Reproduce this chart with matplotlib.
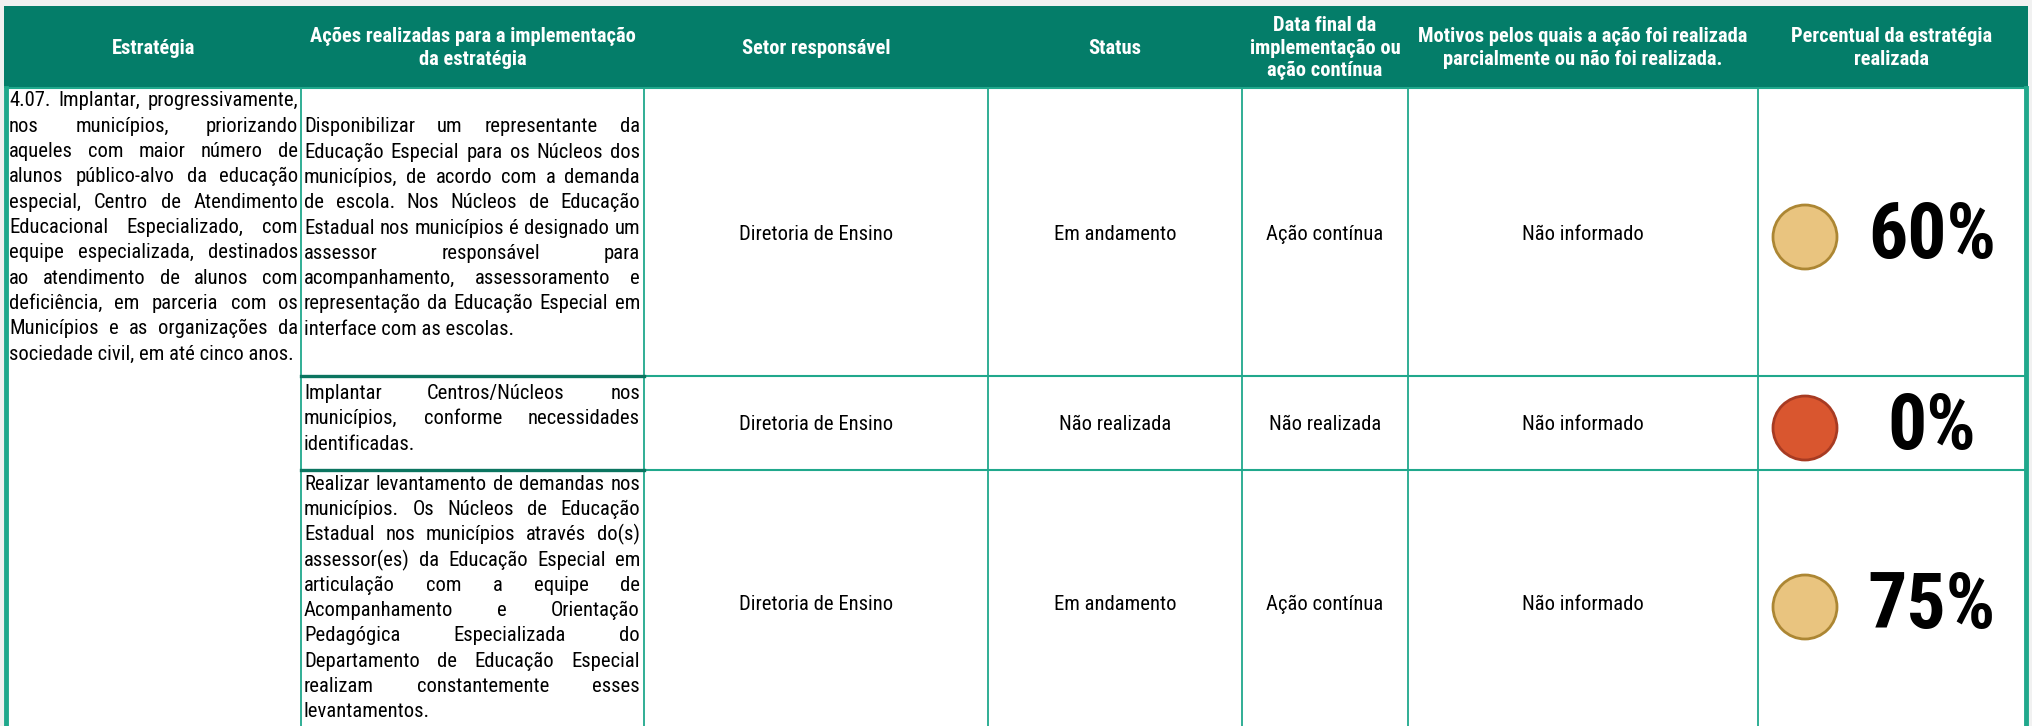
"""Quadro de monitoramento da estratégia 4.07 -> out.png."""

import matplotlib
matplotlib.use("Agg")
import matplotlib.pyplot as plt
from matplotlib import font_manager
from matplotlib.patches import Circle, Rectangle

W, H = 2033, 726

# ---- dados -------------------------------------------------------------
headers = [
    "Estratégia",
    "Ações realizadas para a implementação\nda estratégia",
    "Setor responsável",
    "Status",
    "Data final da\nimplementação ou\nação contínua",
    "Motivos pelos quais a ação foi realizada\nparcialmente ou não foi realizada.",
    "Percentual da estratégia\nrealizada",
]

estrategia = [
    "4.07. Implantar, progressivamente,",
    "nos municípios, priorizando",
    "aqueles com maior número de",
    "alunos público-alvo da educação",
    "especial, Centro de Atendimento",
    "Educacional Especializado, com",
    "equipe especializada, destinados",
    "ao atendimento de alunos com",
    "deficiência, em parceria com os",
    "Municípios e as organizações da",
    "sociedade civil, em até cinco anos.",
]

acoes = [
    ["Disponibilizar um representante da",
     "Educação Especial para os Núcleos dos",
     "municípios, de acordo com a demanda",
     "de escola. Nos Núcleos de Educação",
     "Estadual nos municípios é designado um",
     "assessor responsável para",
     "acompanhamento, assessoramento e",
     "representação da Educação Especial em",
     "interface com as escolas."],
    ["Implantar Centros/Núcleos nos",
     "municípios, conforme necessidades",
     "identificadas."],
    ["Realizar levantamento de demandas nos",
     "municípios. Os Núcleos de Educação",
     "Estadual nos municípios através do(s)",
     "assessor(es) da Educação Especial em",
     "articulação com a equipe de",
     "Acompanhamento e Orientação",
     "Pedagógica Especializada do",
     "Departamento de Educação Especial",
     "realizam constantemente esses",
     "levantamentos."],
]

setor = ["Diretoria de Ensino", "Diretoria de Ensino", "Diretoria de Ensino"]
status = ["Em andamento", "Não realizada", "Em andamento"]
data_final = ["Ação contínua", "Não realizada", "Ação contínua"]
motivos = ["Não informado", "Não informado", "Não informado"]
percentual = [60, 0, 75]

# ---- layout ------------------------------------------------------------
col_x = [6, 301, 644, 988, 1242, 1408, 1758, 2026]
head_top, head_bot = 6, 88
row_y = [88, 376, 470, 740]
LINE = 25.3
BODY = 14.9

GREEN = "#047d69"
TEAL = "#20a88c"
DARK = "#0b7560"

names = {f.name for f in font_manager.fontManager.ttflist}
FONT = "Roboto Condensed" if "Roboto Condensed" in names else "Roboto"
plt.rcParams["font.family"] = [FONT, "DejaVu Sans"]


def text_width(ax, r, s, **kw):
    t = ax.text(0, 0, s, **kw)
    w = t.get_window_extent(r).width
    t.remove()
    return w


def justified(ax, r, lines, x0, x1, y_first, size):
    kw = dict(fontsize=size, color="black", va="center")
    # shrink the font if the face is wider than the reference's condensed one
    widest = max(text_width(ax, r, ln, **kw) for ln in lines[:-1])
    if widest > (x1 - x0):
        kw["fontsize"] = size * (x1 - x0) / widest * 0.98
    for i, ln in enumerate(lines):
        y = y_first + i * LINE
        words = ln.split()
        if i == len(lines) - 1 or len(words) == 1:
            ax.text(x0, y, ln, ha="left", **kw)
            continue
        ws = [text_width(ax, r, w, **kw) for w in words]
        gap = (x1 - x0 - sum(ws)) / (len(words) - 1)
        x = x0
        for w, wd in zip(words, ws):
            ax.text(x, y, w, ha="left", **kw)
            x += wd + gap


def main():
    fig = plt.figure(figsize=(W / 100, H / 100), dpi=100)
    fig.patch.set_facecolor("#f1f1f1")
    ax = fig.add_axes([0, 0, 1, 1])
    ax.set_xlim(0, W)
    ax.set_ylim(H, 0)
    ax.axis("off")
    r = fig.canvas.get_renderer()

    # header band
    ax.add_patch(Rectangle((col_x[0] - 2, head_top), col_x[-1] - col_x[0] + 4,
                           head_bot - head_top, fc=GREEN, ec="none"))
    ax.add_patch(Rectangle((col_x[0], head_bot), col_x[-1] - col_x[0],
                           H, fc="white", ec="none"))
    for i, h in enumerate(headers):
        cx = (col_x[i] + col_x[i + 1]) / 2
        ax.text(cx, (head_top + head_bot) / 2 + 1, h, ha="center", va="center",
                color="white", fontsize=14.8, fontweight="bold", linespacing=1.22)

    # grid lines
    for x in col_x[1:-1]:
        ax.plot([x, x], [head_bot, H], color=TEAL, lw=1.3)
    ax.plot([col_x[0], col_x[0]], [head_bot, H], color=TEAL, lw=3.5)
    ax.plot([col_x[-1], col_x[-1]], [head_bot, H], color=TEAL, lw=3.5)
    ax.plot([col_x[0], col_x[-1]], [head_bot, head_bot], color=TEAL, lw=1.5)
    for y in row_y[1:-1]:
        ax.plot([col_x[2], col_x[-1]], [y, y], color=TEAL, lw=1.5)
        ax.plot([col_x[1], col_x[2]], [y, y], color=DARK, lw=2.4)

    # strategy (merged cell)
    justified(ax, r, estrategia, col_x[0] + 3, col_x[1] - 3, head_bot + 13, BODY)

    for k in range(len(acoes)):
        top, bot = row_y[k], row_y[k + 1]
        cy = (top + min(bot, 734)) / 2
        n = len(acoes[k])
        justified(ax, r, acoes[k], col_x[1] + 3, col_x[2] - 4,
                  cy - (n - 1) * LINE / 2 - 4, BODY)
        for j, txt in zip(range(2, 6), (setor, status, data_final, motivos)):
            ax.text((col_x[j] + col_x[j + 1]) / 2, cy + 2, txt[k], ha="center",
                    va="center", fontsize=BODY, color="black")
        p = percentual[k]
        fc, ec = ("#d9562f", "#a73b22") if p == 0 else ("#e9c47f", "#ac8633")
        ax.add_patch(Circle((1805, cy + 5), 32, fc=fc, ec=ec, lw=2.0))
        ax.text(1932, cy + 5, f"{p}%", ha="center", va="center",
                fontsize=56, fontweight="bold", color="black")

    fig.savefig("out.png", dpi=100, facecolor=fig.get_facecolor())


if __name__ == "__main__":
    main()
